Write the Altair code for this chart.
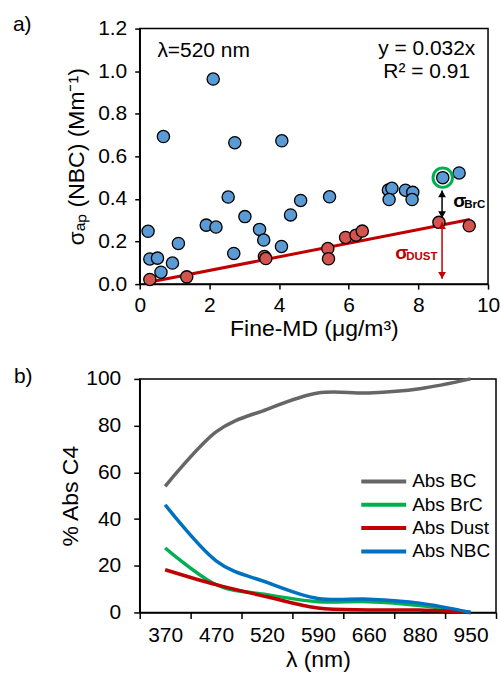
import altair as alt
import pandas as pd

FONT = "Liberation Sans"

# ---------------- panel a: sigma_ap(NBC) at 520 nm vs fine mineral dust ----------------
nbc_fine_md = [0.24, 0.29, 0.51, 0.61, 0.68, 0.94, 1.11, 1.91, 2.11, 2.19, 2.54, 2.70, 2.73,
               3.02, 3.44, 3.56, 4.07, 4.08, 4.33, 4.62, 5.45, 7.14, 7.24, 7.16, 7.63, 7.84,
               7.82, 8.70, 9.17]
nbc_sigma = [0.248, 0.118, 0.122, 0.056, 0.693, 0.099, 0.191, 0.277, 0.963, 0.268, 0.409,
             0.144, 0.664, 0.317, 0.257, 0.207, 0.177, 0.673, 0.325, 0.393, 0.410, 0.442,
             0.450, 0.397, 0.441, 0.431, 0.397, 0.500, 0.522]
dust_fine_md = [0.29, 1.35, 3.58, 3.62, 5.40, 5.42, 5.91, 6.21, 6.39, 8.59, 9.46]
dust_sigma = [0.022, 0.034, 0.130, 0.120, 0.167, 0.119, 0.219, 0.230, 0.249, 0.290, 0.274]

fit_slope = 0.032
fit_x = [0.26, 9.48]

marked_x = [8.70]
marked_y = [0.500]

arrow_x = 8.68
brc_arrow = [0.44, 0.31]     # top tip, bottom tip
dust_arrow = [0.29, 0.025]

# ---------------- panel b: share of absorption by wavelength ----------------
wavelength_nm = ["370", "470", "520", "590", "660", "880", "950"]
abs_bc = [54.0, 77.3, 87.0, 94.0, 94.0, 95.8, 100.0]
abs_brc = [27.6, 11.9, 7.6, 4.6, 4.6, 3.0, 0.0]
abs_dust = [18.3, 11.9, 6.7, 1.9, 1.1, 1.0, 0.0]
abs_nbc = [46.1, 22.1, 12.9, 6.0, 5.7, 4.0, 0.0]
series_names = ["Abs BC", "Abs BrC", "Abs Dust", "Abs NBC"]
series_colors = ["#666666", "#00b050", "#c00000", "#0070c0"]

BLUE = "#5b9bd5"
RED_PT = "#d3544f"
RED = "#c00000"
GREEN = "#00b050"

# ---------------- panel a ----------------
xs_a = alt.Scale(domain=[0, 10], nice=False)
ys_a = alt.Scale(domain=[0, 1.2], nice=False)
X_A = alt.X("x:Q", scale=xs_a, title="Fine-MD (μg/m³)",
            axis=alt.Axis(values=[0, 2, 4, 6, 8, 10], format="d", tickSize=5,
                          labelFontSize=21, titleFontSize=23, labelPadding=5,
                          labelFlush=False, titlePadding=2))
Y_A = alt.Y("y:Q", scale=ys_a, title="σₐₚ (NBC) (Mm⁻¹)",
            axis=alt.Axis(values=[0, 0.2, 0.4, 0.6, 0.8, 1.0, 1.2], format=".1f",
                          tickSize=5, labelFontSize=21, titleFontSize=23,
                          labelFlush=False, labelPadding=8, titlePadding=9))

nbc_df = pd.DataFrame({"x": nbc_fine_md, "y": nbc_sigma})
dust_df = pd.DataFrame({"x": dust_fine_md, "y": dust_sigma})
fit_df = pd.DataFrame({"x": fit_x})
mark_df = pd.DataFrame({"x": marked_x, "y": marked_y})

fit_line = alt.Chart(fit_df).transform_calculate(
    y=f"{fit_slope} * datum.x"
).mark_line(color=RED, strokeWidth=3).encode(x=X_A, y=Y_A)

nbc_pts = alt.Chart(nbc_df).mark_circle(
    size=150, color=BLUE, opacity=1, stroke="black", strokeWidth=1.3
).encode(x=X_A, y=Y_A)

dust_pts = alt.Chart(dust_df).mark_circle(
    size=150, color=RED_PT, opacity=1, stroke="black", strokeWidth=1.3
).encode(x=X_A, y=Y_A)

ring = alt.Chart(mark_df).mark_point(
    shape="circle", size=380, filled=False, color=GREEN, strokeWidth=3, opacity=1
).encode(x=X_A, y=Y_A)


def double_arrow(top, bottom, color):
    shaft_df = pd.DataFrame({"x": [arrow_x], "y": [top], "y2": [bottom]})
    shaft = alt.Chart(shaft_df).mark_rule(color=color, strokeWidth=1.5).encode(
        x=X_A, y=Y_A, y2="y2:Q")
    up = alt.Chart(pd.DataFrame({"x": [arrow_x], "y": [top]})).mark_point(
        shape="triangle-up", size=60, filled=True, color=color, opacity=1
    ).encode(x=X_A, y=Y_A, yOffset=alt.value(3.4))
    down = alt.Chart(pd.DataFrame({"x": [arrow_x], "y": [bottom]})).mark_point(
        shape="triangle-down", size=60, filled=True, color=color, opacity=1
    ).encode(x=X_A, y=Y_A, yOffset=alt.value(-3.4))
    return shaft + up + down


def sigma_label(x, y, sub, color):
    df = pd.DataFrame({"x": [x], "y": [y]})
    sig = alt.Chart(df).mark_text(
        text="σ", align="left", baseline="middle", font=FONT, fontSize=19,
        fontWeight="bold", color=color
    ).encode(x=X_A, y=Y_A)
    s = alt.Chart(df).mark_text(
        text=sub, align="left", baseline="middle", font=FONT, fontSize=11.5,
        fontWeight="bold", color=color, dx=11, dy=4
    ).encode(x=X_A, y=Y_A)
    return sig + s


notes_left = alt.Chart(pd.DataFrame({"x": [0.507], "y": [1.095], "t": ["λ=520 nm"]})).mark_text(
    align="left", baseline="middle", font=FONT, fontSize=21, color="black"
).encode(x=X_A, y=Y_A, text="t:N")
notes_fit = alt.Chart(pd.DataFrame({"x": [8.24, 8.24], "y": [1.103, 0.996],
                                    "t": ["y = 0.032x", "R² = 0.91"]})).mark_text(
    align="center", baseline="middle", font=FONT, fontSize=21, color="black"
).encode(x=X_A, y=Y_A, text="t:N")

tag_a = alt.Chart(pd.DataFrame({"t": ["a)"]})).mark_text(
    align="left", baseline="middle", font=FONT, fontSize=21, color="black"
).encode(x=alt.value(-127), y=alt.value(-4), text="t:N")

panel_a = alt.layer(
    fit_line, nbc_pts, dust_pts, ring,
    double_arrow(brc_arrow[0], brc_arrow[1], "black"),
    double_arrow(dust_arrow[0], dust_arrow[1], RED),
    sigma_label(9.0, 0.389, "BrC", "black"),
    sigma_label(7.335, 0.144, "DUST", RED),
    notes_left, notes_fit, tag_a,
).properties(width=349, height=256)

# ---------------- panel b ----------------
rows = []
for name, vals in zip(series_names, [abs_bc, abs_brc, abs_dust, abs_nbc]):
    for i, (wl, v) in enumerate(zip(wavelength_nm, vals)):
        rows.append({"series": name, "idx": i, "wl": wl, "value": v})
abs_df = pd.DataFrame(rows)

n_wl = len(wavelength_nm)
label_list = ",".join(f"'{w}'" for w in wavelength_nm)
# ticks sit on category boundaries, labels are shifted half a band to the category centre;
# the last boundary has no label, so its (empty) label is kept inside the plot
X_B = alt.X("idx:Q", scale=alt.Scale(domain=[-0.5, n_wl - 0.5], nice=False),
            title="λ (nm)",
            axis=alt.Axis(values=[i - 0.5 for i in range(n_wl + 1)],
                          labelExpr=f"[{label_list}][datum.value + 0.5] || ''",
                          labelOffset={"condition": {"test": f"datum.value > {n_wl - 1}",
                                                     "value": -60},
                                       "value": 25.5},
                          labelOverlap=False, labelBound=False,
                          labelFlush=False, tickSize=6, labelFontSize=21,
                          titleFontSize=23, labelPadding=6, titlePadding=3))
Y_B = alt.Y("value:Q", scale=alt.Scale(domain=[0, 100], nice=False), title="% Abs C4",
            axis=alt.Axis(values=[0, 20, 40, 60, 80, 100], tickSize=6, labelFontSize=21,
                          labelFlush=False, titleFontSize=23, labelPadding=13,
                          titlePadding=3))

lines = alt.Chart(abs_df).mark_line(interpolate="cardinal", strokeWidth=3.5).encode(
    x=X_B, y=Y_B,
    color=alt.Color("series:N", scale=alt.Scale(domain=series_names, range=series_colors),
                    legend=None),
)

# legend drawn inside the plot, one row per series
legend_layers = []
for k, (name, col) in enumerate(zip(series_names, series_colors)):
    row_y = 102.7 + 23.4 * k
    legend_layers.append(
        alt.Chart(pd.DataFrame({"t": [name]})).mark_rule(color=col, strokeWidth=4).encode(
            x=alt.value(222), x2=alt.value(267), y=alt.value(row_y)))
    legend_layers.append(
        alt.Chart(pd.DataFrame({"t": [name]})).mark_text(
            align="left", baseline="middle", font=FONT, fontSize=19, color="black"
        ).encode(x=alt.value(273), y=alt.value(row_y), text="t:N"))

tag_b = alt.Chart(pd.DataFrame({"t": ["b)"]})).mark_text(
    align="left", baseline="middle", font=FONT, fontSize=21, color="black"
).encode(x=alt.value(-126), y=alt.value(-2), text="t:N")

panel_b = alt.layer(lines, *legend_layers, tag_b).properties(width=357, height=234)

chart = alt.vconcat(panel_a, panel_b, spacing=24).properties(
    padding={"left": 12, "top": 12, "right": 0, "bottom": 0}
).configure_axis(
    labelFont=FONT, titleFont=FONT, labelColor="black", titleColor="black",
    domainColor="black", tickColor="black", domainWidth=1.5, tickWidth=1.5,
    grid=False, titleFontWeight="normal",
).configure_view(stroke="black", strokeWidth=1.5)

chart.save("out.html", embed_options={"renderer": "svg", "actions": False})
